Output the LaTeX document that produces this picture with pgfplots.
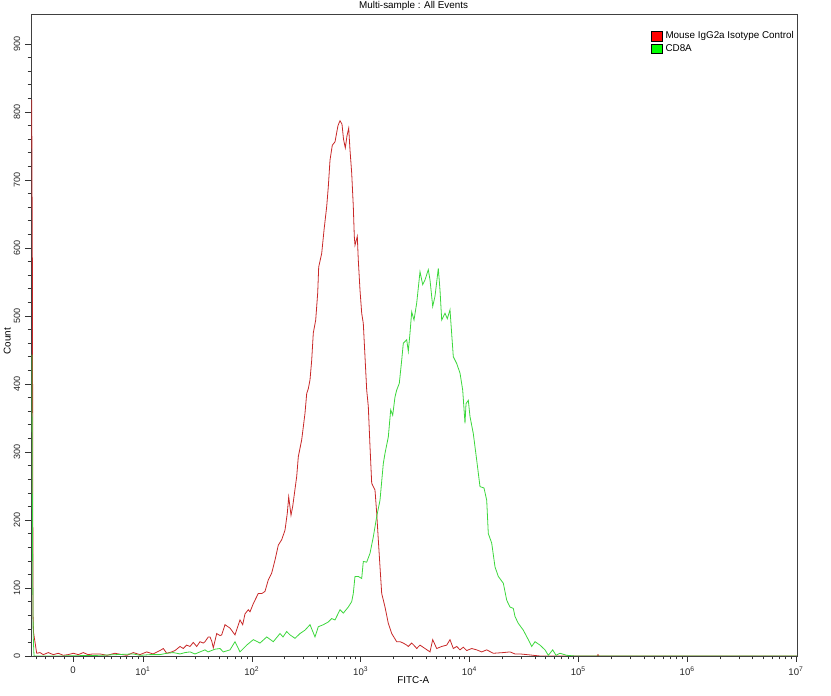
\documentclass[border=0pt]{standalone}
\usepackage{pgfplots}
\pgfplotsset{compat=1.18}
\usepackage{fontspec}
\setmainfont{Liberation Sans}
\definecolor{redline}{RGB}{200,40,40}
\definecolor{greenline}{RGB}{60,215,60}
\begin{document}
\begin{tikzpicture}
\begin{axis}[
  name=ax,
  scale only axis,
  width=574.5pt, height=481.5pt,
  xmin=31, xmax=797, ymin=0, ymax=944,
  axis line style={draw=black!75, line width=0.5pt},
  tick align=outside,
  xtick pos=bottom, ytick pos=left,
  major tick length=4.5pt, minor tick length=2.5pt,
  every tick/.style={black!80, line width=0.4pt},
  xtick={73,143,251.8,360.7,469.5,578.3,687.2,796},
  xticklabels={0,10\textsuperscript{1},10\textsuperscript{2},10\textsuperscript{3},10\textsuperscript{4},10\textsuperscript{5},10\textsuperscript{6},10\textsuperscript{7}},
  minor xtick={36.7,45.7,53.3,64,83.3,94.3,104,111.7,120,126.7,132.5,138,
    175.8,194.9,208.5,219.1,227.7,235.0,241.3,246.9,
    284.6,303.7,317.3,327.9,336.5,343.8,350.1,355.7,
    393.4,412.6,426.2,436.7,445.3,452.6,458.9,464.5,
    502.3,521.4,535.0,545.6,554.2,561.5,567.8,573.3,
    611.1,630.2,643.8,654.4,663.0,670.3,676.6,682.2,
    719.9,739.1,752.7,763.3,771.8,779.2,785.4,791.0},
  ytick={0,100,...,900},
  minor y tick num=4,
  /pgf/number format/assume math mode=true,
  xticklabel style={font=\fontsize{7.2}{8}\selectfont, text=black!85},
  yticklabel style={font=\fontsize{6.8}{7}\selectfont, text=black!85, rotate=90, anchor=south},
  every axis title shift=0pt,
  title={Multi-sample : All Events},
  title style={at={(axis description cs:0.4995,1.0125)}, anchor=center, inner sep=0pt, font=\fontsize{7.4}{8}\selectfont},
  xlabel={FITC-A},
  xlabel style={at={(axis description cs:0.499,-0.037)}, anchor=center, font=\fontsize{7.4}{8}\selectfont},
  ylabel={Count},
  ylabel style={at={(axis description cs:-0.031,0.49)}, anchor=center, font=\fontsize{7.4}{8}\selectfont},
  legend style={at={(axis description cs:0.809,0.977)}, anchor=north west, draw=none, fill=none,
    font=\fontsize{7.4}{8}\selectfont, row sep=-1.5pt, inner sep=0pt, cells={anchor=west}},
]
\addplot[redline, line width=0.6pt,
  legend image code/.code={\draw[draw=black,fill=red,line width=0.4pt] (0pt,-3.6pt) rectangle (8.5pt,3.6pt);}]
coordinates {
(31.7,818)(32.4,568)(33,63)(33.5,35)(36.7,4)(40,5)(43.3,2)(48.3,5)(53.3,2)(58.3,4)(63.3,1)(68,2)(73.3,4)(78.3,2)(83.3,5)(88,2)(93,3)(100,3)(107,1)(115,4)(122,2)(127,1)(133.3,5)(140,2)(146.7,6)(153,3)(160,8)(163.3,11)(166.7,4)(171.7,6)(175,8)(180,14)(183.3,11)(186.7,16)(190,14)(193.3,20)(196.7,14)(200,21)(203.3,19)(205,21)(208.3,28)(210,28)(211.7,22)(213.3,12)(216.7,33)(220,30)(221.7,31)(225,46)(230,41)(235,31)(240,53)(242.7,46)(245,62)(248.3,68)(250,65)(253.3,77)(258.3,92)(262,92)(265,95)(268.3,112)(271.7,122)(275,141)(278.3,163)(281.7,171)(285,185)(287.3,210)(288.7,234)(291,207)(292.7,220)(296.7,264)(298.3,293)(301.7,318)(305,357)(306.7,386)(308.3,393)(310,406)(311.7,435)(313.3,475)(315.7,494)(317.7,534)(318.7,572)(321.7,592)(324,626)(326.7,661)(328.3,690)(330,729)(332.3,751)(335,756)(338,780)(340,787)(342,782)(343.5,760)(345.3,747)(347,765)(348.7,776)(350,744)(351.7,710)(353.3,661)(354.3,617)(355,604)(357.3,617)(358.3,582)(360,538)(361.7,504)(363.3,489)(365,440)(366.7,391)(368.3,367)(370,308)(371.7,254)(375,244)(376.7,210)(378.3,171)(380,131)(381.7,92)(385,72)(388.3,48)(391.7,33)(396.7,21)(400,21)(403.3,19)(406.7,16)(408.3,14)(411.7,19)(415,14)(416.7,11)(420,16)(425,11)(430,6)(432.7,24)(436.7,11)(441.7,14)(446.7,16)(450,24)(453.3,11)(456.7,14)(460,9)(463.3,13)(466.7,8)(471.7,11)(476.7,9)(481.7,6)(486.7,9)(493.3,4)(503.3,5)(510,6)(515,3)(520,3)(527,2)(533.3,1)(540,0)(560,0)(597,0)(598,2)(599,0)(797,0)
};
\addlegendentry{Mouse IgG2a Isotype Control}
\addplot[greenline, line width=0.6pt,
  legend image code/.code={\draw[draw=black,fill=green,line width=0.4pt] (0pt,-3.6pt) rectangle (8.5pt,3.6pt);}]
coordinates {
(31.9,443)(32.5,170)(33.2,30)(34,0)(60,0)(100,1)(133,3)(140,1)(150,2)(160,2)(166.7,4)(173.3,5)(180,3)(185,5)(190,6)(195,3)(200,6)(205,9)(208,6)(215,10)(220,11)(223.3,6)(230,9)(235,21)(240,6)(246.7,16)(253.3,24)(260,19)(266.7,28)(273.3,21)(280,33)(283,28)(286.7,36)(290,31)(295,26)(300,33)(305,38)(310,46)(315,28)(318.3,43)(323.3,46)(328.3,50)(331.7,55)(335,53)(340,68)(343.3,63)(348.3,72)(351.7,80)(353.3,92)(355,117)(358.3,117)(361.7,114)(363.3,139)(366.7,138)(370,151)(373.3,175)(376.7,205)(380,229)(383.3,283)(385,298)(388.3,322)(390.7,362)(392.7,354)(395,381)(396.7,391)(399.3,401)(401.7,435)(403.3,460)(406.7,465)(408.3,448)(410,475)(411.7,506)(414,494)(416.7,519)(420,565)(422.7,546)(425,553)(428.3,568)(430,553)(432.7,514)(435,529)(438.3,570)(440,538)(441.7,494)(445,504)(447.3,496)(450,509)(453.3,440)(456.7,430)(460,416)(462.7,391)(465,342)(466,371)(468.3,376)(470,352)(473.3,327)(476.7,288)(480,249)(484,247)(486.7,229)(488.3,180)(491.7,166)(495,131)(498.3,117)(503.3,107)(506.7,82)(510,72)(513.3,70)(515,58)(518.3,48)(523.3,38)(528.3,24)(531.7,14)(535,21)(540,16)(545,9)(548.3,1)(552.7,9)(556,1)(560,4)(566.7,1)(575,0)(797,0)
};
\addlegendentry{CD8A}
\end{axis}
\pgfresetboundingbox
\path[use as bounding box] ([xshift=-23.25pt,yshift=-30pt]ax.south west) rectangle ([xshift=25.5pt,yshift=10.5pt]ax.north east);
\end{tikzpicture}
\end{document}
